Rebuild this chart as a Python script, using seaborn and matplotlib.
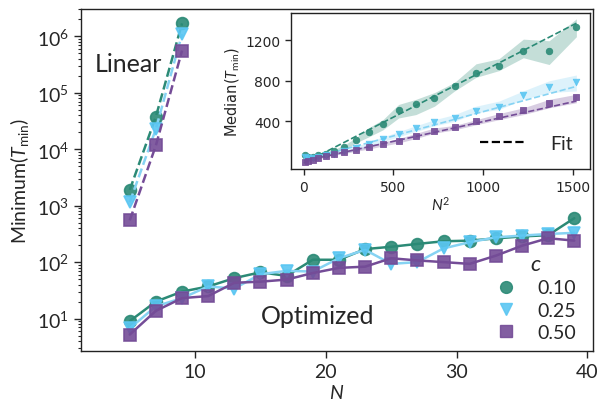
import numpy as np
import pandas as pd
import matplotlib
matplotlib.use("Agg")
import matplotlib.pyplot as plt
from matplotlib.lines import Line2D
import seaborn as sns

# ---------------- data ----------------
c_values = ["0.10", "0.25", "0.50"]
colors = ["#2b8a76", "#5ac6f2", "#744c97"]
line_colors = ["#2b8a76", "#86d3f3", "#744c97"]
markers = ["o", "v", "s"]

N_linear = [5, 7, 9]
T_linear_010 = [1900, 38000, 1.7e6]
T_linear_025 = [1150, 23000, 1.1e6]
T_linear_050 = [550, 11700, 5.6e5]

N_opt = [5, 7, 9, 11, 13, 15, 17, 19, 21, 23, 25, 27, 29, 31, 33, 35, 37, 39]
T_opt_010 = [9, 20, 30, 37, 52, 66, 57, 110, 110, 170, 187, 210, 234, 240, 263, 285, 300, 600]
T_opt_025 = [6.7, 16.5, 23, 37, 34, 61, 70, 68, 117, 165, 93, 100, 175, 225, 275, 295, 315, 330]
T_opt_050 = [5.2, 13.7, 23, 25, 43, 45, 49, 64, 79, 83, 117, 107, 100, 93, 130, 195, 265, 240]

N2 = [9, 25, 49, 81, 121, 169, 225, 289, 361, 441, 529, 625, 729, 841, 961, 1089, 1225, 1369, 1521]
med_010 = [70, 45, 50, 65, 84, 110, 150, 215, 292, 374, 510, 567, 627, 750, 877, 950, 1093, 1090, 1327]
lo_010 = [55, 35, 40, 55, 72, 95, 120, 187, 247, 317, 434, 467, 550, 700, 834, 900, 1027, 960, 1234]
hi_010 = [80, 55, 60, 75, 96, 125, 167, 237, 337, 417, 567, 617, 684, 784, 967, 1017, 1210, 1194, 1410]
med_025 = [45, 40, 40, 50, 65, 82, 105, 134, 177, 224, 277, 334, 390, 434, 507, 543, 657, 740, 790]
lo_025 = [35, 30, 30, 38, 52, 68, 85, 115, 150, 200, 250, 300, 357, 400, 484, 517, 617, 684, 700]
hi_025 = [55, 50, 50, 60, 75, 95, 118, 150, 200, 247, 300, 357, 417, 467, 550, 600, 700, 800, 857]
med_050 = [5, 12, 22, 38, 60, 78, 98, 120, 145, 177, 210, 257, 310, 344, 407, 457, 510, 584, 640]
lo_050 = [0, 5, 14, 28, 50, 66, 85, 105, 128, 158, 188, 232, 284, 317, 367, 417, 467, 534, 584]
hi_050 = [12, 20, 30, 48, 70, 90, 112, 135, 162, 196, 232, 282, 336, 360, 417, 477, 534, 617, 667]

fit_slope = [0.905, 0.478, 0.388]
fit_intercept = [-10, 18, 10]
fit_x = [0, 1521]

# ---------------- style ----------------
sns.set_theme(style="ticks")
plt.rcParams["font.family"] = ["Lato", "DejaVu Sans"]
plt.rcParams["mathtext.fontset"] = "custom"
plt.rcParams["mathtext.rm"] = "Lato"
plt.rcParams["mathtext.it"] = "Lato:italic"
plt.rcParams["axes.edgecolor"] = "#222222"
plt.rcParams["axes.linewidth"] = 1.0

fig = plt.figure(figsize=(5.98, 4.10), dpi=100)
ax = fig.add_axes([0.135, 0.1415, 0.857, 0.834])

lin_series = [T_linear_010, T_linear_025, T_linear_050]
opt_series = [T_opt_010, T_opt_025, T_opt_050]

for i in range(3):
    df_lin = pd.DataFrame({"N": N_linear, "T": lin_series[i]})
    sns.lineplot(data=df_lin, x="N", y="T", ax=ax, color=line_colors[i], linestyle="--",
                 linewidth=1.8, estimator=None, sort=False, legend=False)
    sns.lineplot(data=df_lin, x="N", y="T", ax=ax, color=colors[i], linestyle="none",
                 marker=markers[i], markersize=8.5, markeredgewidth=1.2,
                 markeredgecolor=colors[i], alpha=0.9, estimator=None, sort=False, legend=False)
    df_opt = pd.DataFrame({"N": N_opt, "T": opt_series[i]})
    sns.lineplot(data=df_opt, x="N", y="T", ax=ax, color=line_colors[i], linestyle="-",
                 linewidth=1.8, estimator=None, sort=False, legend=False)
    sns.lineplot(data=df_opt, x="N", y="T", ax=ax, color=colors[i], linestyle="none",
                 marker=markers[i], markersize=8.5, markeredgewidth=1.2,
                 markeredgecolor=colors[i], alpha=0.9, estimator=None, sort=False, legend=False)

ax.set_yscale("log")
ax.set_xlim(1.25, 40.45)
ax.set_ylim(2.66, 3.05e6)
ax.set_xticks([10, 20, 30, 40])
ax.tick_params(axis="both", labelsize=14, direction="out", length=5, width=1)
ax.tick_params(axis="y", which="minor", length=2.5, width=0.8)
ax.set_xlabel("$N$", fontsize=14, labelpad=2)
ax.set_ylabel(r"Minimum($T_{\mathrm{min}}$)", fontsize=14, labelpad=4)
ax.xaxis.get_offset_text().set_visible(False)
ax.yaxis.get_offset_text().set_visible(False)

ax.text(0.028, 0.82, "Linear", transform=ax.transAxes, fontsize=18, va="baseline", ha="left")
ax.text(0.352, 0.082, "Optimized", transform=ax.transAxes, fontsize=18, va="baseline", ha="left")

handles = [Line2D([], [], linestyle="none", marker=markers[i], color=colors[i],
                  markersize=8.5, markeredgecolor=colors[i], alpha=0.9) for i in range(3)]
leg = ax.legend(handles, c_values, title="$c$", loc="lower right", frameon=False,
                fontsize=14, title_fontsize=16, handlelength=1.0, handletextpad=1.1,
                labelspacing=0.28, borderaxespad=0.1, bbox_to_anchor=(0.985, 0.0))

# ---------------- inset ----------------
ins = fig.add_axes([0.486, 0.585, 0.5006, 0.381])
meds = [med_010, med_025, med_050]
los = [lo_010, lo_025, lo_050]
his = [hi_010, hi_025, hi_050]
for i in range(3):
    ins.fill_between(N2, los[i], his[i], color=line_colors[i], alpha=0.28, linewidth=0)
    fx = np.array(fit_x, dtype=float)
    df_fit = pd.DataFrame({"x": fx, "y": fit_slope[i] * fx + fit_intercept[i]})
    sns.lineplot(data=df_fit, x="x", y="y", ax=ins, color=line_colors[i], linestyle="--",
                 linewidth=1.2, estimator=None, legend=False)
    df_m = pd.DataFrame({"x": N2, "y": meds[i]})
    sns.scatterplot(data=df_m, x="x", y="y", ax=ins, color=colors[i], marker=markers[i],
                    s=22, edgecolor=colors[i], linewidth=0.6, alpha=0.9, legend=False, zorder=3)

ins.set_xlim(-74, 1597)
ins.set_ylim(-70, 1468)
ins.set_xticks([0, 500, 1000, 1500])
ins.set_yticks([400, 800, 1200])
for lab in ins.get_xticklabels() + ins.get_yticklabels():
    lab.set_fontfamily("DejaVu Sans")
ins.tick_params(axis="both", labelsize=10, direction="out", length=4, width=1)
ins.set_xlabel("$N^2$", fontsize=11, labelpad=1)
ins.set_ylabel(r"Median($T_{\mathrm{min}}$)", fontsize=10.5, labelpad=3, family="DejaVu Sans")
fit_handle = [Line2D([], [], color="black", linestyle="--", linewidth=1.6)]
ins.legend(fit_handle, ["Fit"], loc="lower right", frameon=False, fontsize=14,
           handlelength=2.4, handletextpad=1.2, borderaxespad=0.5)

fig.savefig("out.png", dpi=100)
